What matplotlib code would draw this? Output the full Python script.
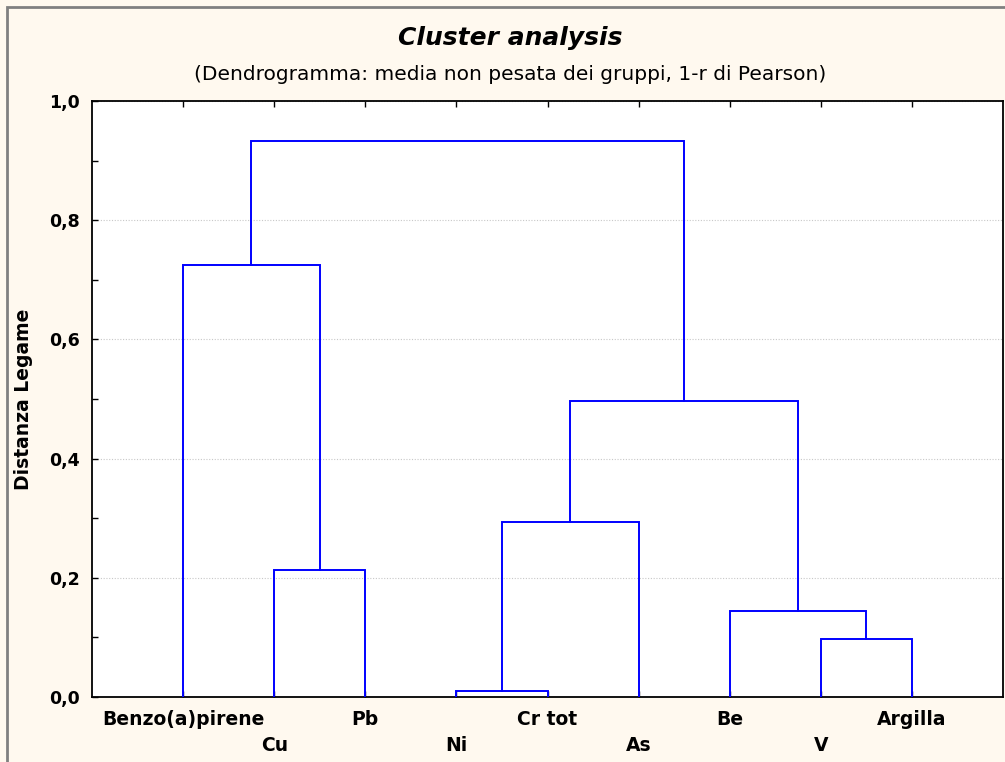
import matplotlib.pyplot as plt
from matplotlib.patches import Rectangle
from matplotlib.ticker import MultipleLocator, FuncFormatter

# foglie nell'ordine del dendrogramma
foglie = ["Benzo(a)pirene", "Cu", "Pb", "Ni", "Cr tot", "As", "Be", "V", "Argilla"]

# fusioni: (nodo sinistro, nodo destro, distanza) - nodi nuovi numerati da 9 in poi
sinistra = [3, 7, 6, 1, 9, 13, 0, 15]
destra = [4, 8, 10, 2, 5, 11, 12, 14]
distanze = [0.010, 0.097, 0.144, 0.213, 0.294, 0.497, 0.725, 0.933]

blu = "#0000FF"
crema = "#FFF9EF"

plt.rcParams['font.family'] = ['DejaVu Sans']

fig = plt.figure(figsize=(10.05, 7.62), dpi=100, facecolor=crema)
fig.patches.append(Rectangle((7 / 1005, -0.05), 1.2, 1 - 7 / 762 + 0.05,
                             transform=fig.transFigure, facecolor="none",
                             edgecolor="#808080", linewidth=2.0, zorder=0))
ax = fig.add_axes([92 / 1005, 1 - 697 / 762, (1003 - 92) / 1005, (697 - 101) / 762])
ax.set_facecolor("white")

# posizione e altezza di ogni nodo
pos_x = {i: i + 1.0 for i in range(len(foglie))}
alt = {i: 0.0 for i in range(len(foglie))}
for k in range(len(distanze)):
    a, b, h = sinistra[k], destra[k], distanze[k]
    xa, xb = pos_x[a], pos_x[b]
    ax.plot([xa, xa, xb, xb], [alt[a], h, h, alt[b]], color=blu, lw=1.4,
            solid_joinstyle="miter", zorder=3)
    nuovo = len(foglie) + k
    pos_x[nuovo] = (xa + xb) / 2
    alt[nuovo] = h

ax.set_xlim(0, len(foglie) + 1)
ax.set_ylim(0, 1.0)
ax.yaxis.set_major_locator(MultipleLocator(0.2))
ax.yaxis.set_minor_locator(MultipleLocator(0.1))
ax.yaxis.set_major_formatter(FuncFormatter(lambda v, p: f"{v:.1f}".replace(".", ",")))
ax.grid(axis="y", which="major", color="#C8C8C8", linestyle=(0, (1, 1.5)), lw=0.8)
ax.set_xticks(range(1, len(foglie) + 1))
ax.set_xticklabels([])
ax.tick_params(axis="both", which="both", direction="in", length=4, width=1,
               top=True, right=False, color="black")
ax.tick_params(axis="y", labelsize=12.5, pad=9)
for t in ax.get_yticklabels():
    t.set_fontweight("bold")
for s in ax.spines.values():
    s.set_linewidth(1.3)

for i, nome in enumerate(foglie):
    riga = 0 if i % 2 == 0 else 1
    ax.text(i + 1, -0.021 - riga * 0.045, nome, ha="center", va="top",
            fontsize=13.5, fontweight="bold", transform=ax.transData, clip_on=False)

ax.set_ylabel("Distanza Legame", fontsize=13.5, fontweight="bold", labelpad=11)
fig.text(0.508, 1 - 38 / 762, "Cluster analysis", ha="center", va="center",
         fontsize=18, fontweight="bold", style="italic")
fig.text(0.508, 1 - 75 / 762, "(Dendrogramma: media non pesata dei gruppi, 1-r di Pearson)",
         ha="center", va="center", fontsize=14.5)

fig.savefig("out.png", dpi=100, facecolor=crema)
